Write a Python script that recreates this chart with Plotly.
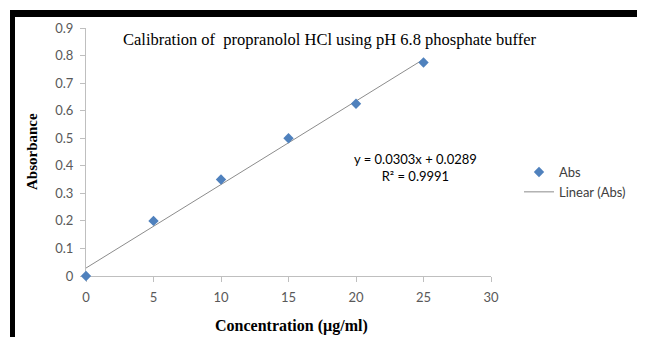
import plotly.graph_objects as go

# Data
concentration = [0, 5, 10, 15, 20, 25]
absorbance = [0.0, 0.2, 0.35, 0.5, 0.625, 0.775]
slope = 0.0303
intercept = 0.0289
trend_x = [0, 25]
x_ticks = [0, 5, 10, 15, 20, 25, 30]
y_ticks = [0, 0.1, 0.2, 0.3, 0.4, 0.5, 0.6, 0.7, 0.8, 0.9]

OFF = 8  # page body margin
W, H = 645 - OFF, 337 - OFF
L, T = 86 - OFF, 28 - OFF
pw, ph = 405, 248
R, B = W - L - pw, H - T - ph

def px(x):
    return (x - OFF - L) / pw

def py(y):
    return (T + ph - (y - OFF)) / ph

fig = go.Figure()
fig.add_trace(go.Scatter(
    x=trend_x, y=[slope * v + intercept for v in trend_x], mode="lines", legendgroup="b",
    name="Linear (Abs)", line=dict(color="#8c8c8c", width=1), cliponaxis=False,
))
fig.add_trace(go.Scatter(
    x=concentration, y=absorbance, mode="markers", name="Abs", legendgroup="a",
    marker=dict(symbol="diamond", size=8, color="#4F81BD"), cliponaxis=False,
))

axis_font = dict(family="Lato, Liberation Sans, sans-serif", size=13, color="#595959")
serif = "Liberation Serif, Times New Roman, serif"
fig.update_layout(
    width=W, height=H,
    margin=dict(l=L, r=R, t=T, b=B, autoexpand=False),
    paper_bgcolor="white", plot_bgcolor="white",
    showlegend=True,
    legend=dict(x=px(519), y=py(157), xanchor="left", yanchor="top", traceorder="reversed",
                font=dict(family="Lato, Liberation Sans, sans-serif", size=13, color="#404040"),
                bgcolor="rgba(0,0,0,0)", itemwidth=30, tracegroupgap=1),
    xaxis=dict(range=[0, 30], tickvals=x_ticks, showline=True, linecolor="#bfbfbf", linewidth=1,
               ticks="outside", ticklen=5, tickcolor="#bfbfbf", showgrid=False, zeroline=False,
               tickfont=axis_font, ticklabelstandoff=4, fixedrange=True, layer="below traces"),
    yaxis=dict(range=[0, 0.9], tickvals=y_ticks, showline=True, linecolor="#bfbfbf", linewidth=1,
               ticks="outside", ticklen=5, tickcolor="#bfbfbf", showgrid=False, zeroline=False,
               tickfont=axis_font, ticklabelstandoff=4, fixedrange=True, layer="below traces"),
    annotations=[
        dict(text="Calibration of  propranolol HCl using pH 6.8 phosphate buffer",
             xref="paper", yref="paper", x=px(330), y=py(40), showarrow=False,
             xanchor="center", yanchor="middle",
             font=dict(family=serif, size=16.5, color="#000000")),
        dict(text="Absorbance", xref="paper", yref="paper", x=px(32), y=py(152), textangle=-90,
             showarrow=False, xanchor="center", yanchor="middle",
             font=dict(family=serif, size=15, color="#000000", weight="bold")),
        dict(text="Concentration (µg/ml)", xref="paper", yref="paper", x=px(291), y=py(326),
             showarrow=False, xanchor="center", yanchor="middle",
             font=dict(family=serif, size=16, color="#000000", weight="bold")),
        dict(text="y = 0.0303x + 0.0289<br>R² = 0.9991", xref="paper", yref="paper",
             x=px(415), y=py(167), showarrow=False, align="center",
             xanchor="center", yanchor="middle",
             font=dict(family="Lato, Liberation Sans, sans-serif", size=13, color="#000000")),
    ],
    shapes=[
        dict(type="rect", xref="paper", yref="paper", x0=px(10), x1=px(660), y0=py(17), y1=py(10),
             fillcolor="black", line=dict(width=0)),
        dict(type="rect", xref="paper", yref="paper", x0=px(10), x1=px(15), y0=py(345), y1=py(10),
             fillcolor="black", line=dict(width=0)),
    ],
)

fig.write_html("out.html")
